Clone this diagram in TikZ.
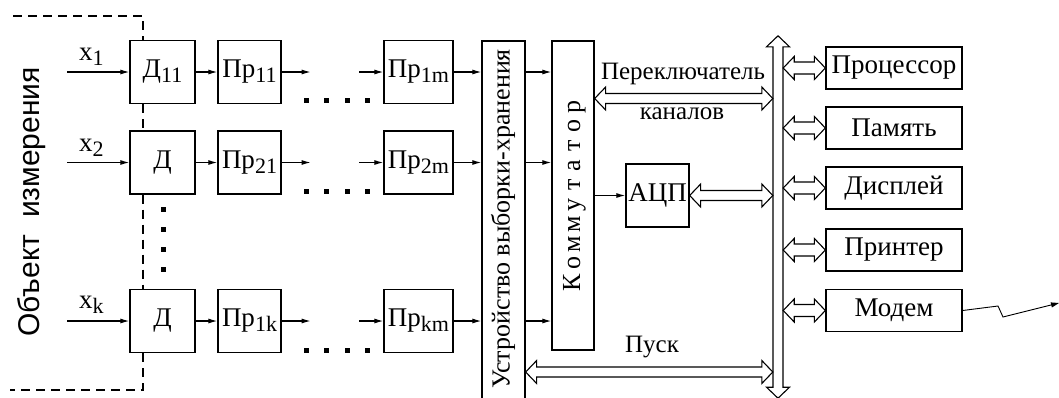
\documentclass[tikz,border=0pt]{standalone}
\usepackage{fontspec}
\setmainfont{Liberation Serif}
\newfontfamily\objfont{Liberation Sans}
\usetikzlibrary{arrows.meta,calc}
% lowered index used in the block labels
\newcommand\ssub[1]{\raisebox{-5pt}{\fontsize{22}{22}\selectfont #1}}
% hollow double-headed arrow, horizontal: #1 shaft half-width, #2 left tip, #3 right tip
\newcommand\hollowH[3]{\path[hollow] let \p1=#2, \p2=#3 in
  (\x1,\y1) -- (\x1+11pt,\y1+11.5pt) -- (\x1+11pt,\y1+#1) -- (\x2-11pt,\y1+#1)
  -- (\x2-11pt,\y1+11.5pt) -- (\x2,\y1) -- (\x2-11pt,\y1-11.5pt) -- (\x2-11pt,\y1-#1)
  -- (\x1+11pt,\y1-#1) -- (\x1+11pt,\y1-11.5pt) -- cycle;}
% hollow double-headed arrow, vertical: #1 top tip, #2 bottom tip
\newcommand\hollowV[2]{\path[hollow] let \p1=#1, \p2=#2 in
  (\x1,\y1) -- (\x1+11.5pt,\y1-11pt) -- (\x1+5pt,\y1-11pt) -- (\x1+5pt,\y2+11pt)
  -- (\x1+11.5pt,\y2+11pt) -- (\x1,\y2) -- (\x1-11.5pt,\y2+11pt) -- (\x1-5pt,\y2+11pt)
  -- (\x1-5pt,\y1-11pt) -- (\x1-11.5pt,\y1-11pt) -- cycle;}
\begin{document}
\begin{tikzpicture}[x=1pt,y=-1pt,
  blk/.style={draw,line width=1.3pt,inner sep=0pt,font=\fontsize{27}{27}\selectfont},
  sq/.style={blk,minimum width=65pt,minimum height=63pt},
  dev/.style={blk,minimum width=136pt,minimum height=42pt},
  sig/.style={line width=1.2pt,-{Latex[length=9pt,width=5pt]}},
  hollow/.style={draw,line width=1.1pt,fill=white,line join=miter},
  objline/.style={line width=1.1pt,dash pattern=on 9pt off 6pt},
  lbl/.style={inner sep=0pt,font=\fontsize{25}{25}\selectfont},
  xlbl/.style={anchor=base west,inner sep=0pt,font=\fontsize{27}{27}\selectfont}]
\useasboundingbox (0,0) rectangle (1059,397);
\clip (0,0) rectangle (1059,397);

% measured object
\node[rotate=90,inner sep=0pt,font=\objfont\fontsize{30}{30}\selectfont] (objtxt) at (32,202) {Объект\ \ измерения};

% sensors
\node[sq] (d1) at (162.5,72) {Д\ssub{11}};
\node[sq] (d2) at (162.5,162.5) {Д};
\node[sq] (dk) at (162.5,321) {Д};

% converters
\node[sq,minimum width=63pt] (p11) at (249.5,72) {Пр\ssub{11}};
\node[sq,minimum width=63pt] (p21) at (249.5,162.5) {Пр\ssub{21}};
\node[sq,minimum width=63pt] (p1k) at (249.5,321) {Пр\ssub{1k}};
\node[sq,minimum width=69pt] (p1m) at (418.5,72) {Пр\ssub{1m}};
\node[sq,minimum width=69pt] (p2m) at (418.5,162.5) {Пр\ssub{2m}};
\node[sq,minimum width=69pt] (pkm) at (418.5,321) {Пр\ssub{km}};

% sample-and-hold unit
\node[blk,minimum width=43pt,minimum height=370pt] (ustr) at (503.5,226) {};
\node[rotate=90,lbl,font=\fontsize{26}{26}\selectfont] (ustrtxt) at (503,219)
  {Устройство выборки-хранения};

% multiplexer
\node[blk,minimum width=42pt,minimum height=309pt] (kom) at (573,195.5) {};
\foreach \c [count=\i from 0] in {К,о,м,м,у,т,а,т,о,р}
  \node[rotate=90,lbl,font=\fontsize{26}{26}\selectfont,anchor=base] (kl\i) at (580,283-\i*19.6) {\c};

% ADC
\node[blk,minimum width=63pt,minimum height=63pt] (adc) at (657.5,195.5) {АЦП};

% devices on the bus
\node[dev] (cpu) at (894,68) {Процессор};
\node[dev] (mem) at (894,128) {Память};
\node[dev] (disp) at (894,188) {Дисплей};
\node[dev] (prn) at (894,250) {Принтер};
\node[dev] (modem) at (894,310.5) {Модем};

% system bus
\node[inner sep=0pt,minimum width=10pt,minimum height=362pt] (bus) at (778,217) {};
\hollowV{(bus.north)}{(bus.south)}

% object boundary
\coordinate (ob) at (143,0);
\draw[objline] (13,16) -- (143,16) -- (ob |- d1.north);
\draw[objline] (ob |- d1.south) -- (ob |- d2.north);
\draw[objline] (ob |- d2.south) -- (ob |- dk.north);
\draw[objline] (ob |- dk.south) -- (143,390) -- (10,390);

% inputs
\coordinate (in1) at (67,72);
\coordinate (in2) at (67,162.5);
\coordinate (ink) at (67,321);
\draw[sig] (in1) -- (d1.west);
\draw[sig] (in2) -- (d2.west);
\draw[sig] (ink) -- (dk.west);
\node[xlbl] (lx1) at (79,60) {x\ssub{1}};
\node[xlbl] (lx2) at (79,151) {x\ssub{2}};
\node[xlbl] (lxk) at (79,308) {x\ssub{k}};

% channel chains
\foreach \d/\p/\q in {d1/p11/p1m,d2/p21/p2m,dk/p1k/pkm}{
  \draw[sig] (\d.east) -- (\p.west);
  \coordinate (\p o) at ([xshift=29pt]\p.east);
  \coordinate (\q i) at ([xshift=-24pt]\q.west);
  \draw[sig] (\p.east) -- (\p o);
  \draw[sig] (\q i) -- (\q.west);
  \draw[sig] (\q.east) -- (ustr.west |- \q.east);
  \draw[sig] (ustr.east |- \q.east) -- (kom.west |- \q.east);
}

% omitted channels
\foreach \yy in {100,191,350}
  \foreach \xx in {306,326,347,367}
    \fill (\xx-2.5,\yy-2.5) rectangle +(5,5);
\foreach \yy in {209,229,249,269}
  \fill (163-2.5,\yy-2.5) rectangle +(5,5);

% multiplexer to ADC
\draw[sig] (kom.east |- adc.west) -- (adc.west);

% links to the bus
\coordinate (sw) at (0,98.5);
\coordinate (pusk) at (0,372);
\hollowH{5pt}{(kom.east |- sw)}{(bus.west |- sw)}
\hollowH{5pt}{(adc.east)}{(bus.west |- adc.east)}
\hollowH{5pt}{(ustr.east |- pusk)}{(bus.west |- pusk)}
\foreach \dv in {cpu,mem,disp,prn,modem}
  \hollowH{6pt}{(bus.east |- \dv.west)}{(\dv.west)};

\node[lbl] (swlbl) at (683,74) {Переключатель};
\node[lbl] (chlbl) at (682,114) {каналов};
\node[lbl] (pusklbl) at (652,347) {Пуск};

% modem line
\coordinate (line) at (1059,303);
\draw[line width=0.9pt,-{Triangle[length=8pt,width=5pt]}]
  (modem.east) -- (998,306) -- (1003,317) -- (line);
\end{tikzpicture}
\end{document}
